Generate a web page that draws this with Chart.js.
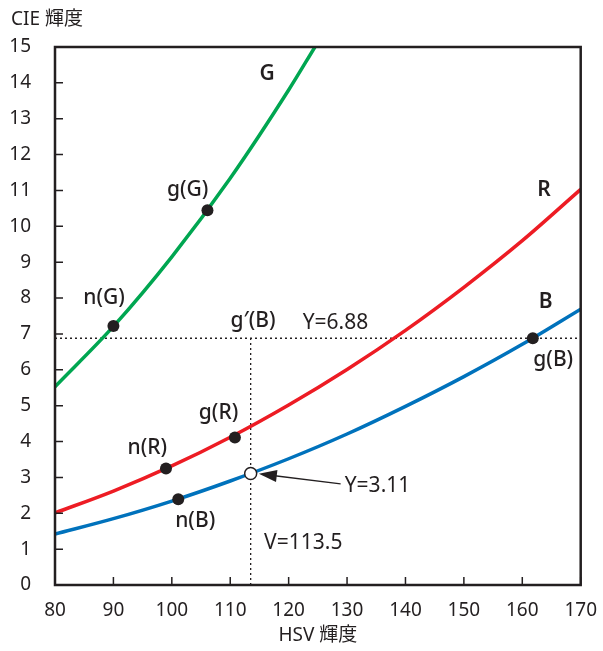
<!DOCTYPE html>
<html>
<head>
    <title>CIE 輝度 vs HSV 輝度</title>
    <script src="https://cdn.jsdelivr.net/npm/chart.js"></script>
    <style>
        body { margin: 0; background: #fff; }
        #wrap { width: 603px; height: 651px; }
    </style>
</head>
<body>
<div id="wrap"><canvas id="grafico" width="603" height="651"></canvas></div>
<script>
    // valores
    const vG = [80, 90, 100, 110, 120, 124.5];
    const yG = [5.53, 7.21, 9.15, 11.34, 13.8, 15];
    const vRB = [80, 90, 100, 110, 120, 130, 140, 150, 160, 170];
    const yR = [2.01, 2.62, 3.32, 4.12, 5.02, 6.01, 7.10, 8.30, 9.60, 11.03];
    const yB = [1.42, 1.85, 2.34, 2.90, 3.52, 4.21, 4.98, 5.81, 6.71, 7.69];

    const puntosV = [90, 106.1, 99, 110.8, 101.1, 161.8];
    const puntosY = [7.22, 10.45, 3.25, 4.11, 2.39, 6.88];
    const abiertoV = 113.5;
    const abiertoY = 3.11;

    const xTicks = [80, 90, 100, 110, 120, 130, 140, 150, 160, 170];
    const yTicks = [0,1,2,3,4,5,6,7,8,9,10,11,12,13,14,15];

    const FONT = "'Noto Sans', 'Noto Sans CJK JP', sans-serif";

    const pares = (xs, ys) => xs.map((x, i) => ({ x: x, y: ys[i] }));

    // etiquetas: texto, x, y, peso
    const etiquetas = [
        ['G', 116.3, 14.25, '600'],
        ['g(G)', 102.7, 11.0, '500'],
        ['n(G)', 88.4, 8.0, '500'],
        ['R', 163.7, 11.0, '600'],
        ['B', 164.0, 7.88, '600'],
        ['g(B)', 165.3, 6.27, '500'],
        ['g′(B)', 113.9, 7.35, '500'],
        ['n(R)', 95.8, 3.83, '500'],
        ['g(R)', 108.0, 4.8, '500'],
        ['n(B)', 104.0, 1.78, '500']
    ];
    const textosIzq = [
        ['Y=6.88', 122.4, 7.3],
        ['Y=3.11', 129.6, 2.77],
        ['V=113.5', 115.8, 1.17]
    ];

    const dibujos = {
        id: 'dibujos',
        afterDatasetsDraw(chart) {
            const ctx = chart.ctx;
            const xs = chart.scales.x, ys = chart.scales.y;
            const a = chart.chartArea;
            ctx.save();
            // marco
            ctx.strokeStyle = '#231f20';
            ctx.lineWidth = 2.5;
            ctx.strokeRect(a.left, a.top, a.right - a.left, a.bottom - a.top);
            // ticks hacia dentro
            ctx.lineWidth = 1.5;
            ctx.beginPath();
            xTicks.forEach(t => {
                const px = xs.getPixelForValue(t);
                ctx.moveTo(px, a.bottom);
                ctx.lineTo(px, a.bottom - 8);
            });
            yTicks.forEach(t => {
                const py = ys.getPixelForValue(t);
                ctx.moveTo(a.left, py);
                ctx.lineTo(a.left + 8, py);
            });
            ctx.stroke();
            // flecha
            const x1 = xs.getPixelForValue(128.9), y1 = ys.getPixelForValue(2.82);
            const x2 = xs.getPixelForValue(114.9), y2 = ys.getPixelForValue(3.10);
            const ang = Math.atan2(y2 - y1, x2 - x1);
            ctx.strokeStyle = '#231f20';
            ctx.fillStyle = '#231f20';
            ctx.lineWidth = 1.3;
            ctx.beginPath();
            ctx.moveTo(x1, y1);
            ctx.lineTo(x2 + 14 * Math.cos(ang + Math.PI), y2 + 14 * Math.sin(ang + Math.PI));
            ctx.stroke();
            ctx.beginPath();
            ctx.moveTo(x2, y2);
            ctx.lineTo(x2 - 18 * Math.cos(ang) + 6 * Math.sin(ang), y2 - 18 * Math.sin(ang) - 6 * Math.cos(ang));
            ctx.lineTo(x2 - 18 * Math.cos(ang) - 6 * Math.sin(ang), y2 - 18 * Math.sin(ang) + 6 * Math.cos(ang));
            ctx.closePath();
            ctx.fill();
            // textos
            ctx.textBaseline = 'middle';
            ctx.textAlign = 'center';
            etiquetas.forEach(e => {
                ctx.font = e[3] + ' 21px ' + FONT;
                ctx.fillText(e[0], xs.getPixelForValue(e[1]), ys.getPixelForValue(e[2]));
            });
            ctx.textAlign = 'left';
            ctx.font = '400 21px ' + FONT;
            textosIzq.forEach(e => {
                ctx.fillText(e[0], xs.getPixelForValue(e[1]), ys.getPixelForValue(e[2]));
            });
            // titulo eje y
            ctx.font = '400 19px ' + FONT;
            ctx.fillText('CIE 輝度', 11, 20);
            ctx.restore();
        }
    };

    const config = {
        type: 'line',
        data: {
            datasets: [
                { data: [{x: 80, y: 6.88}, {x: 170, y: 6.88}], borderColor: '#231f20', borderWidth: 1.3, borderDash: [2, 3], pointRadius: 0, order: 3 },
                { data: [{x: abiertoV, y: 0}, {x: abiertoV, y: 6.88}], borderColor: '#231f20', borderWidth: 1.3, borderDash: [2, 3], pointRadius: 0, order: 3 },
                { data: pares(vG, yG), borderColor: '#00a651', borderWidth: 3.5, pointRadius: 0, cubicInterpolationMode: 'monotone', order: 2 },
                { data: pares(vRB, yR), borderColor: '#ed1c24', borderWidth: 3.5, pointRadius: 0, cubicInterpolationMode: 'monotone', order: 2 },
                { data: pares(vRB, yB), borderColor: '#0072bc', borderWidth: 3.5, pointRadius: 0, cubicInterpolationMode: 'monotone', order: 2 },
                { data: pares(puntosV, puntosY), showLine: false, pointRadius: 6, pointBackgroundColor: '#231f20', pointBorderWidth: 0, order: 1 },
                { data: [{x: abiertoV, y: abiertoY}], showLine: false, pointRadius: 6, pointBackgroundColor: '#ffffff', pointBorderColor: '#231f20', pointBorderWidth: 1.5, order: 0 }
            ]
        },
        options: {
            responsive: false,
            animation: false,
            layout: { padding: { left: 0, right: 17, top: 47, bottom: 0 } },
            plugins: { legend: { display: false }, tooltip: { enabled: false } },
            scales: {
                x: {
                    type: 'linear', min: 80, max: 170,
                    afterBuildTicks: s => { s.ticks = xTicks.map(v => ({ value: v })); },
                    afterFit: s => { s.height = 66; },
                    grid: { display: false },
                    border: { display: false },
                    ticks: { color: '#231f20', font: { family: FONT, size: 19 }, padding: 6, maxRotation: 0 },
                    title: { display: true, text: 'HSV 輝度', color: '#231f20', font: { family: FONT, size: 19 }, padding: { top: 0 } }
                },
                y: {
                    type: 'linear', min: 0, max: 15,
                    afterBuildTicks: s => { s.ticks = yTicks.map(v => ({ value: v })); },
                    afterFit: s => { s.width = 55; },
                    grid: { display: false },
                    border: { display: false },
                    ticks: { color: '#231f20', font: { family: FONT, size: 19 }, padding: 16, autoSkip: false }
                }
            }
        },
        plugins: [dibujos]
    };

    new Chart(document.getElementById('grafico').getContext('2d'), config);
</script>
</body>
</html>
